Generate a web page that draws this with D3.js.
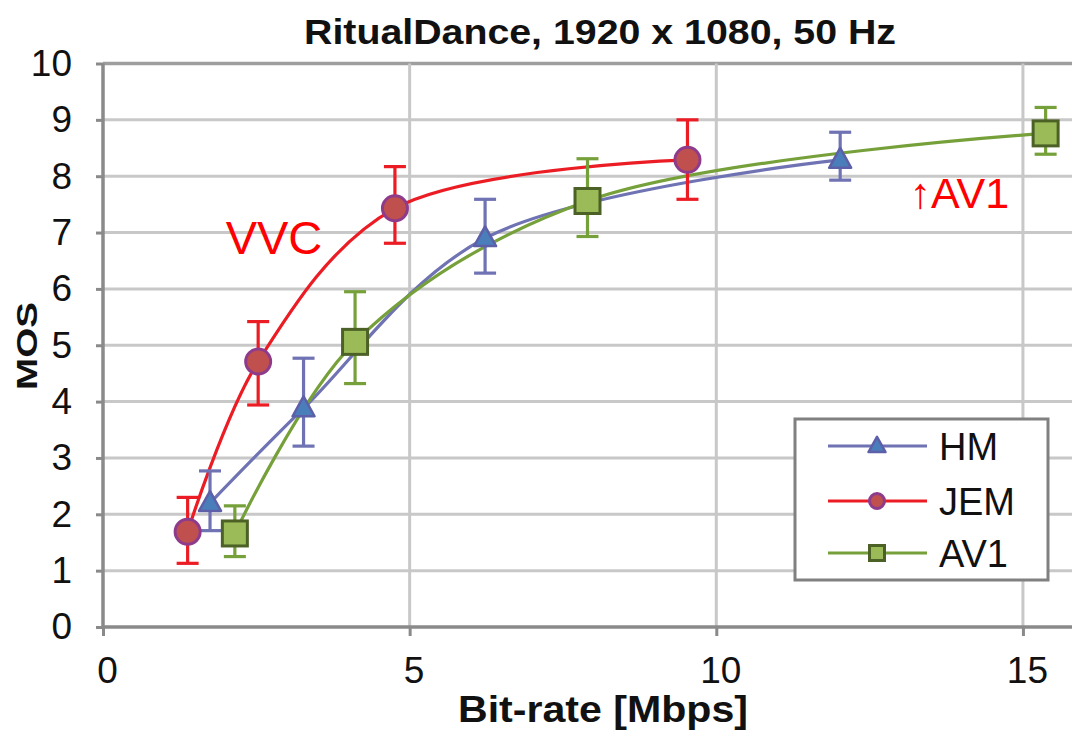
<!DOCTYPE html>
<html>
<head>
<meta charset="utf-8">
<script src="https://cdn.jsdelivr.net/npm/d3@7"></script>
<style>
  html, body { margin: 0; padding: 0; background: #fff; }
  svg { display: block; }
  text { font-family: "Liberation Sans", Arial, sans-serif; }
</style>
</head>
<body>
<svg id="chart" width="1072" height="734"></svg>
<script>
// ---- data ----
const seriesNames = ["HM", "JEM", "AV1"];
const hmRate = [1.745, 3.27, 6.23, 12.02];
const hmMos  = [2.20, 3.88, 6.90, 8.29];
const hmHi   = [2.77, 4.77, 7.59, 8.78];
const hmLo   = [1.71, 3.21, 6.28, 7.93];

const jemRate = [1.38, 2.53, 4.76, 9.53];
const jemMos  = [1.69, 4.71, 7.43, 8.29];
const jemHi   = [2.30, 5.42, 8.17, 9.00];
const jemLo   = [1.13, 3.94, 6.81, 7.59];

const av1Rate = [2.15, 4.11, 7.90, 15.37];
const av1Mos  = [1.66, 5.06, 7.56, 8.76];
const av1Hi   = [2.15, 5.95, 8.31, 9.22];
const av1Lo   = [1.25, 4.32, 6.93, 8.39];

const xTicks = [0, 5, 10, 15];
const yTicks = [0, 1, 2, 3, 4, 5, 6, 7, 8, 9, 10];
const titleText = "RitualDance, 1920 x 1080, 50 Hz";
const xTitle = "Bit-rate [Mbps]";
const yTitle = "MOS";
const vvcNote = {text: "VVC", x: 2.0, y: 6.62};
const av1Note = {text: "↑AV1", x: 13.15, y: 7.44};

// ---- build ----
const svg = d3.select("#chart");
const x = d3.scaleLinear().domain([0, 15.8]).range([103, 1072]);
const y = d3.scaleLinear().domain([0, 10]).range([627, 63.5]);

const styles = {
  HM:  {line: "#6f72b3", fill: "#4a7ebb", stroke: "#5d5fa8", shape: "tri"},
  JEM: {line: "#ec1c24", fill: "#c0504d", stroke: "#8e3b8c", shape: "circ"},
  AV1: {line: "#76a03a", fill: "#9bbb59", stroke: "#4c6126", shape: "sq"}
};
const series = [
  {name: "HM",  rate: hmRate,  mos: hmMos,  hi: hmHi,  lo: hmLo},
  {name: "JEM", rate: jemRate, mos: jemMos, hi: jemHi, lo: jemLo},
  {name: "AV1", rate: av1Rate, mos: av1Mos, hi: av1Hi, lo: av1Lo}
].map(s => ({...s, pts: s.rate.map((r, i) => ({x: r, y: s.mos[i], hi: s.hi[i], lo: s.lo[i]}))}));

// gridlines
const grid = svg.append("g");
grid.selectAll("line.h").data(yTicks.filter(v => v > 0)).join("line")
  .attr("x1", x(0)).attr("x2", 1072)
  .attr("y1", d => y(d)).attr("y2", d => y(d))
  .attr("stroke", d => d === 10 ? "#9e9e9e" : "#c8c8c8")
  .attr("stroke-width", d => d === 10 ? 3.5 : 3);
grid.selectAll("line.v").data(xTicks.filter(v => v > 0)).join("line")
  .attr("x1", d => x(d)).attr("x2", d => x(d))
  .attr("y1", y(10)).attr("y2", y(0))
  .attr("stroke", "#c8c8c8").attr("stroke-width", 3);

// axes
const yAxis = svg.append("g").attr("transform", `translate(${x(0)},0)`)
  .call(d3.axisLeft(y).tickValues(yTicks).tickSize(7).tickPadding(24).tickFormat(d3.format("d")));
const xAxis = svg.append("g").attr("transform", `translate(0,${y(0)})`)
  .call(d3.axisBottom(x).tickValues(xTicks).tickSize(9).tickPadding(21).tickFormat(d3.format("d")));
[yAxis, xAxis].forEach(a => {
  a.select(".domain").attr("stroke", "#8a8a8a").attr("stroke-width", 3.5);
  a.selectAll(".tick line").attr("stroke", "#8a8a8a").attr("stroke-width", 3);
  a.selectAll(".tick text").attr("fill", "#111").style("font-size", "37px")
    .style("font-family", '"Liberation Sans", Arial, sans-serif');
});
yAxis.select(".domain").attr("d", `M0,${y(0)}V${y(10)}`);
xAxis.select(".domain").attr("d", `M${x(0)},0H1072`);
xAxis.selectAll(".tick text").attr("dx", 4);

// series lines
const line = d3.line().x(d => x(d.x)).y(d => y(d.y)).curve(d3.curveCatmullRom.alpha(0.5));
svg.append("g").selectAll("path").data(series).join("path")
  .attr("d", s => line(s.pts)).attr("fill", "none")
  .attr("stroke", s => styles[s.name].line).attr("stroke-width", 3.2);

// error bars
const eb = svg.append("g");
series.forEach(s => {
  const g = eb.append("g").attr("stroke", styles[s.name].line).attr("stroke-width", 3.2);
  s.pts.forEach(p => {
    g.append("line").attr("x1", x(p.x)).attr("x2", x(p.x)).attr("y1", y(p.hi)).attr("y2", y(p.lo));
    [p.hi, p.lo].forEach(v => g.append("line")
      .attr("x1", x(p.x) - 11).attr("x2", x(p.x) + 11).attr("y1", y(v)).attr("y2", y(v)));
  });
});

// markers
function marker(g, shape, cx, cy, size, st) {
  if (shape === "circ") {
    g.append("circle").attr("cx", cx).attr("cy", cy).attr("r", size * 0.5)
      .attr("fill", st.fill).attr("stroke", st.stroke).attr("stroke-width", 3);
  } else if (shape === "sq") {
    g.append("rect").attr("x", cx - size / 2).attr("y", cy - size / 2)
      .attr("width", size).attr("height", size)
      .attr("fill", st.fill).attr("stroke", st.stroke).attr("stroke-width", 3);
  } else {
    const h = size * 0.9, w = size;
    g.append("path").attr("d", `M${cx},${cy - h * 0.6}L${cx + w / 2},${cy + h * 0.4}L${cx - w / 2},${cy + h * 0.4}Z`)
      .attr("fill", st.fill).attr("stroke", st.stroke).attr("stroke-width", 2.5).attr("stroke-linejoin", "round");
  }
}
const mk = svg.append("g");
series.forEach(s => {
  const st = styles[s.name];
  s.pts.forEach(p => marker(mk, st.shape, x(p.x), y(p.y), st.shape === "tri" ? 22 : 25, st));
});

// annotations
svg.append("text").attr("x", x(vvcNote.x)).attr("y", y(vvcNote.y))
  .attr("fill", "#ff0000").style("font-size", "47px").text(vvcNote.text);
svg.append("text").attr("x", x(av1Note.x)).attr("y", y(av1Note.y))
  .attr("fill", "#ff0000").style("font-size", "43px").text(av1Note.text);

// legend
const lg = svg.append("g");
lg.append("rect").attr("x", 795).attr("y", 419).attr("width", 253).attr("height", 161)
  .attr("fill", "#fff").attr("stroke", "#808080").attr("stroke-width", 3);
const legY = [446, 501, 553];
seriesNames.forEach((n, i) => {
  const st = styles[n];
  lg.append("line").attr("x1", 828).attr("x2", 927).attr("y1", legY[i]).attr("y2", legY[i])
    .attr("stroke", st.line).attr("stroke-width", 3.2);
  marker(lg, st.shape, 877, legY[i], st.shape === "tri" ? 17 : 15, st);
  lg.append("text").attr("x", 939).attr("y", legY[i] + 14).attr("fill", "#111")
    .style("font-size", "38px").text(n);
});

// titles
svg.append("text").attr("x", 600).attr("y", 44).attr("text-anchor", "middle")
  .attr("textLength", 592).attr("lengthAdjust", "spacingAndGlyphs")
  .style("font-size", "35px").style("font-weight", "bold").attr("fill", "#111").text(titleText);
svg.append("text").attr("x", 603).attr("y", 722).attr("text-anchor", "middle")
  .attr("textLength", 290).attr("lengthAdjust", "spacingAndGlyphs")
  .style("font-size", "37px").style("font-weight", "bold").attr("fill", "#111").text(xTitle);
svg.append("text").attr("transform", "translate(37,346) rotate(-90)").attr("text-anchor", "middle")
  .attr("textLength", 88).attr("lengthAdjust", "spacingAndGlyphs")
  .style("font-size", "30px").style("font-weight", "bold").attr("fill", "#111").text(yTitle);
</script>
</body>
</html>
